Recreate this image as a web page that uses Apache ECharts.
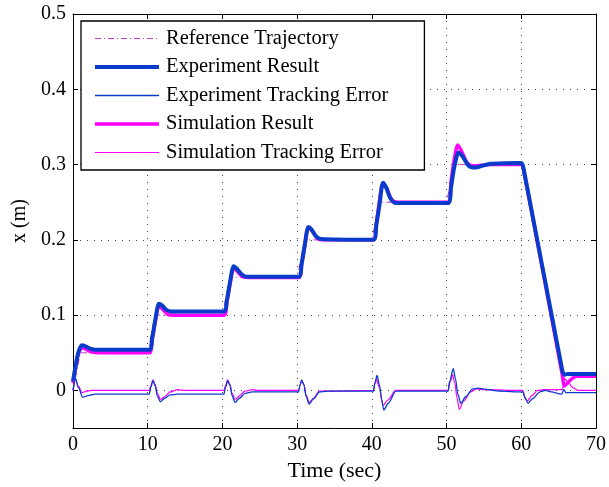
<!DOCTYPE html>
<html>
<head>
<meta charset="utf-8">
<script src="https://cdn.jsdelivr.net/npm/echarts@6/dist/echarts.min.js"></script>
<style>html,body{margin:0;padding:0;background:#fff}#c{width:609px;height:487px}</style>
</head>
<body>
<div id="c"></div>
<script>
// ---- data ----
var xTicks = [0, 10, 20, 30, 40, 50, 60, 70];
var yTicks = [0, 0.1, 0.2, 0.3, 0.4, 0.5];

var refTime  = [0, 1, 10, 11, 20, 21, 30, 31, 40, 41, 50, 51, 60, 65.6, 70];
var refValue = [0, 0.05, 0.05, 0.1, 0.1, 0.15, 0.15, 0.2, 0.2, 0.25, 0.25, 0.3, 0.3, 0.02, 0.02];

var expTime  = [0, 0.3, 0.7, 1.2, 1.6, 2.2, 3, 10.2, 10.6, 11.0, 11.5, 11.9, 12.5, 13.2,
                20.2, 20.6, 21.0, 21.5, 21.9, 22.5, 23.2, 30.2, 30.6, 31.0, 31.5, 31.9, 32.5, 33.2,
                40.2, 40.6, 41.0, 41.5, 41.9, 42.5, 43.2, 50.2, 50.6, 51.0, 51.6, 52.2, 53.0, 53.8,
                55, 56, 60.0, 60.3, 65.5, 65.8, 66.2, 70];
var expValue = [0.012, 0.03, 0.05, 0.06, 0.059, 0.056, 0.054, 0.054, 0.07, 0.093, 0.115, 0.113, 0.107, 0.105,
                0.105, 0.12, 0.143, 0.165, 0.162, 0.155, 0.151, 0.151, 0.168, 0.192, 0.217, 0.214, 0.205, 0.201,
                0.2, 0.22, 0.245, 0.276, 0.27, 0.255, 0.249, 0.249, 0.27, 0.295, 0.316, 0.31, 0.298, 0.296,
                0.299, 0.301, 0.302, 0.295, 0.026, 0.021, 0.022, 0.022];

var simTime  = [0, 0.3, 0.7, 1.2, 1.7, 2.5, 3.5, 10.2, 10.6, 11.0, 11.5, 12.0, 12.7, 13.5,
                20.2, 20.6, 21.0, 21.5, 22.0, 22.7, 23.5, 30.2, 30.6, 31.0, 31.5, 32.0, 32.7, 33.5,
                40.2, 40.6, 41.0, 41.5, 42.0, 42.7, 43.5, 50.2, 50.6, 51.0, 51.5, 52.0, 52.7, 53.5,
                54.5, 56, 60.0, 60.3, 65.5, 65.75, 66.2, 66.8, 67.5, 70];
var simValue = [0.01, 0.028, 0.048, 0.057, 0.055, 0.051, 0.05, 0.05, 0.068, 0.09, 0.112, 0.108, 0.101, 0.1,
                0.1, 0.118, 0.14, 0.163, 0.158, 0.151, 0.15, 0.15, 0.168, 0.19, 0.216, 0.212, 0.202, 0.2,
                0.2, 0.222, 0.25, 0.276, 0.268, 0.253, 0.25, 0.25, 0.278, 0.305, 0.326, 0.318, 0.303, 0.298,
                0.299, 0.3, 0.3, 0.294, 0.02, 0.006, 0.01, 0.016, 0.019, 0.019];

var expErrTime  = [0, 0.35, 0.7, 1.3, 2, 3, 10.2, 10.4, 10.7, 11.0, 11.3, 11.7, 12.3, 13, 14,
                   20.2, 20.4, 20.7, 21.0, 21.3, 21.7, 22.3, 23, 24,
                   30.2, 30.35, 30.6, 30.9, 31.2, 31.6, 32.2, 33, 34,
                   40.2, 40.4, 40.7, 41.0, 41.3, 41.6, 42.2, 43.2,
                   50.2, 50.4, 50.9, 51.2, 51.5, 51.9, 52.6, 53.5, 54.2, 55.5, 57,
                   60.2, 60.5, 60.9, 61.5, 62.5, 63.2, 64, 65.4, 65.7, 66, 70];
var expErrValue = [0.0, 0.016, 0.004, -0.009, -0.007, -0.005, -0.005, 0.004, 0.013, 0.006, -0.008, -0.015, -0.01, -0.006, -0.005,
                   -0.005, 0.004, 0.013, 0.007, -0.007, -0.016, -0.01, -0.004, -0.002,
                   -0.002, 0.006, 0.014, 0.008, -0.008, -0.018, -0.011, -0.002, -0.001,
                   -0.001, 0.01, 0.02, 0.008, -0.012, -0.026, -0.017, -0.001,
                   -0.001, 0.012, 0.029, 0.015, -0.005, -0.017, -0.008, 0.002, 0.003, 0.001, -0.001,
                   -0.002, -0.01, -0.017, -0.011, -0.002, 0.0, -0.002, -0.005, 0.001, -0.003, -0.003];

var simErrTime  = [0, 0.3, 0.7, 1.2, 1.8, 2.5, 10.2, 10.4, 10.7, 11.0, 11.3, 11.7, 12.3, 13, 14, 15,
                   20.2, 20.4, 20.7, 21.0, 21.3, 21.7, 22.3, 23, 24, 25,
                   30.2, 30.4, 30.6, 30.9, 31.2, 31.6, 32.2, 33,
                   40.2, 40.4, 40.6, 41.0, 41.5, 42.1, 43.2,
                   50.2, 50.5, 50.8, 51.1, 51.4, 51.7, 52.3, 53.2, 54, 55,
                   60.2, 60.5, 60.8, 61.4, 62.2, 63, 65.5, 65.8, 66.3, 67, 67.6, 70];
var simErrValue = [0.0, 0.015, 0.006, -0.003, -0.001, 0.0, 0.0, 0.006, 0.014, 0.008, -0.004, -0.012, -0.008, -0.002, 0.001, 0.0,
                   0.0, 0.006, 0.014, 0.008, -0.004, -0.012, -0.007, -0.001, 0.001, 0.0,
                   0.0, 0.007, 0.013, 0.008, -0.006, -0.016, -0.01, -0.001,
                   0.0, 0.008, 0.015, 0.004, -0.02, -0.013, 0.0,
                   0.0, 0.012, 0.021, 0.01, -0.01, -0.025, -0.014, -0.002, 0.002, 0.001,
                   0.0, -0.009, -0.014, -0.007, 0.0, 0.001, 0.001, 0.016, 0.01, 0.003, 0.0, 0.0];

var names = ['Reference Trajectory', 'Experiment Result', 'Experiment Tracking Error',
             'Simulation Result', 'Simulation Tracking Error'];

function pairs(t, v) { return t.map(function (x, i) { return [x, v[i]]; }); }

var BLUE = '#0a3ccc', MAG = '#ff00ff', REF = '#c23ccf';
var FONT = '"Liberation Serif", "Times New Roman", serif';

var chart = echarts.init(document.getElementById('c'), null, { renderer: 'canvas' });
var tickInside = { show: true, inside: true, length: 5, lineStyle: { color: '#000', width: 1 } };

chart.setOption({
  animation: false,
  backgroundColor: '#fff',
  textStyle: { fontFamily: FONT },
  grid: { left: 73, right: 13, top: 14, bottom: 55, containLabel: false },
  legend: {
    orient: 'vertical', left: 81, top: 21,
    data: names,
    itemWidth: 64, itemHeight: 14, itemGap: 7.5,
    padding: [7, 36, 7, 12],
    backgroundColor: '#fff', borderColor: '#000', borderWidth: 1.3, borderRadius: 0,
    itemStyle: { color: 'rgba(0,0,0,0)', borderColor: 'rgba(0,0,0,0)', borderWidth: 0, opacity: 0 },
    lineStyle: { width: 'inherit' },
    textStyle: { fontFamily: FONT, fontSize: 20.5, color: '#000', lineHeight: 20, padding: [0, 0, 0, 2] },
    selectedMode: false
  },
  xAxis: [{
    type: 'value', min: 0, max: 70, interval: 10, position: 'bottom',
    name: 'Time (sec)', nameLocation: 'middle', nameGap: 23,
    nameTextStyle: { fontFamily: FONT, fontSize: 22, color: '#000' },
    axisLine: { show: true, onZero: false, lineStyle: { color: '#000', width: 1 } },
    axisTick: tickInside,
    axisLabel: { fontFamily: FONT, fontSize: 20, color: '#000', margin: 7 },
    splitLine: { show: true, lineStyle: { color: '#444', type: [1, 6], width: 1 } }
  }, {
    type: 'value', min: 0, max: 70, interval: 10, position: 'top',
    axisLine: { show: true, onZero: false, lineStyle: { color: '#000', width: 1 } },
    axisTick: tickInside, axisLabel: { show: false }, splitLine: { show: false }
  }],
  yAxis: [{
    type: 'value', min: -0.05, max: 0.5, position: 'left',
    name: 'x (m)', nameLocation: 'middle', nameGap: 43, nameRotate: 90,
    nameTextStyle: { fontFamily: FONT, fontSize: 20, color: '#000' },
    axisLine: { show: true, onZero: false, lineStyle: { color: '#000', width: 1 } },
    axisTick: { show: true, inside: true, length: 5, customValues: yTicks, lineStyle: { color: '#000', width: 1 } },
    axisLabel: { fontFamily: FONT, fontSize: 20, color: '#000', margin: 7, customValues: yTicks,
                 formatter: function (v) { return String(Math.round(v * 10) / 10); } },
    splitLine: { show: true, lineStyle: { color: '#444', type: [1, 6], width: 1 } }
  }, {
    type: 'value', min: -0.05, max: 0.5, position: 'right',
    axisLine: { show: true, onZero: false, lineStyle: { color: '#000', width: 1 } },
    axisTick: { show: true, inside: true, length: 5, customValues: yTicks, lineStyle: { color: '#000', width: 1 } },
    axisLabel: { show: false }, splitLine: { show: false }
  }],
  series: [
    { name: names[0], type: 'line', symbol: 'none', data: pairs(refTime, refValue),
      lineStyle: { color: REF, width: 1, type: [6, 3, 1, 3] }, itemStyle: { color: REF }, z: 2 },
    { name: names[3], type: 'line', symbol: 'none', data: pairs(simTime, simValue), smooth: 0.25,
      lineStyle: { color: MAG, width: 3.5 }, itemStyle: { color: MAG }, z: 3 },
    { name: names[1], type: 'line', symbol: 'none', data: pairs(expTime, expValue), smooth: 0.25,
      lineStyle: { color: BLUE, width: 4 }, itemStyle: { color: BLUE }, z: 4 },
    { name: names[4], type: 'line', symbol: 'none', data: pairs(simErrTime, simErrValue), smooth: 0.3, smoothMonotone: 'x',
      lineStyle: { color: MAG, width: 1.2 }, itemStyle: { color: MAG }, z: 5 },
    { name: names[2], type: 'line', symbol: 'none', data: pairs(expErrTime, expErrValue), smooth: 0.3, smoothMonotone: 'x',
      lineStyle: { color: BLUE, width: 1.3 }, itemStyle: { color: BLUE }, z: 6 }
  ]
});
</script>
</body>
</html>
